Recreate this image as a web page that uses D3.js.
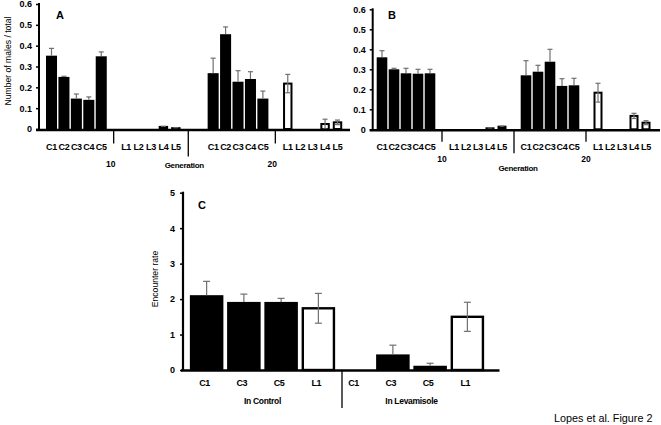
<!DOCTYPE html>
<html><head><meta charset="utf-8">
<script src="https://cdn.jsdelivr.net/npm/d3@7/dist/d3.min.js"></script>
<style>
html,body{margin:0;padding:0;background:#fff;}
svg{display:block;font-family:"Liberation Sans",Arial,sans-serif;}
</style></head>
<body><svg id="c" width="661" height="425"></svg>
<script>
// ---------- DATA ----------
const cCats = ["C1","C2","C3","C4","C5"];
const lCats = ["L1","L2","L3","L4","L5"];
const generations = ["10","20"];
const yTicksAB = [0,0.1,0.2,0.3,0.4,0.5,0.6];

// Panel A : number of males / total
const A_g10_C = [0.352,0.250,0.146,0.140,0.349];
const A_g10_C_err = [0.035,0.003,0.022,0.014,0.021];
const A_g10_L = [0,0,0,0.010,0.004];
const A_g10_L_err = [0,0,0,0.003,0.002];
const A_g20_C = [0.268,0.455,0.227,0.240,0.146];
const A_g20_C_err = [0.072,0.035,0.053,0.035,0.036];
const A_g20_L = [0.218,0,0,0.024,0.032];
const A_g20_L_err = [0.044,0,0,0.023,0.011];

// Panel B
const B_g10_C = [0.360,0.300,0.280,0.278,0.280];
const B_g10_C_err = [0.033,0.005,0.025,0.022,0.020];
const B_g10_L = [0,0,0,0.005,0.013];
const B_g10_L_err = [0,0,0,0.002,0.003];
const B_g20_C = [0.270,0.288,0.338,0.217,0.220];
const B_g20_C_err = [0.073,0.032,0.062,0.036,0.035];
const B_g20_L = [0.183,0,0,0.067,0.033];
const B_g20_L_err = [0.047,0,0,0.013,0.010];

// Panel C : encounter rate
const C_cats = ["C1","C3","C5","L1"];
const C_groups = ["In Control","In Levamisole"];
const C_control = [2.11,1.92,1.92,1.74];
const C_control_err = [0.39,0.22,0.10,0.42];
const C_lev = [0,0.44,0.12,1.50];
const C_lev_err = [0,0.26,0.07,0.41];
const yTicksC = [0,1,2,3,4,5];

// ---------- DRAW ----------
const svg = d3.select("#c");
const ERR = "#707070";
const fmt = d3.format(".1f");

function drawAB(o){
  const g = svg.append("g");
  const y = d3.scaleLinear().domain([0,0.6]).range([o.y0,o.y1]);
  const keys = [];
  cCats.forEach(c=>keys.push("10"+c)); keys.push("sep1");
  lCats.forEach(c=>keys.push("10"+c)); keys.push("sep2");
  if(o.gap) keys.push("gap");
  cCats.forEach(c=>keys.push("20"+c)); keys.push("sep3");
  lCats.forEach(c=>keys.push("20"+c));
  const x = d3.scalePoint().domain(keys).range(o.xr);
  const step = x.step();
  const bw = step - 1.4;
  const wbw = step - 3;

  const rows = [];
  const add=(gen,cats,vals,errs,type)=>cats.forEach((c,i)=>rows.push({key:gen+c,v:vals[i],e:errs[i],type}));
  add("10",cCats,o.d[0],o.d[1],"C");
  add("10",lCats,o.d[2],o.d[3],"L");
  add("20",cCats,o.d[4],o.d[5],"C");
  add("20",lCats,o.d[6],o.d[7],"L");

  g.selectAll(".bb").data(rows.filter(r=>r.type==="C"&&r.v>0)).join("rect")
    .attr("x",r=>x(r.key)-bw/2).attr("width",bw)
    .attr("y",r=>y(r.v)).attr("height",r=>y(0)-y(r.v)).attr("fill","#000");
  g.selectAll(".lb").data(rows.filter(r=>r.type==="L"&&r.v>0)).join("rect")
    .attr("x",r=>x(r.key)-wbw/2+1).attr("width",wbw-2)
    .attr("y",r=>y(r.v)).attr("height",r=>Math.max(0.5,y(0)-y(r.v)))
    .attr("fill",r=>r.v<0.02?"#000":"#fff").attr("stroke","#000").attr("stroke-width",2);
  const er = rows.filter(r=>r.e>0);
  g.selectAll(".ev").data(er).join("line")
    .attr("x1",r=>x(r.key)).attr("x2",r=>x(r.key))
    .attr("y1",r=>r.type==="L"&&r.v>0.02?y(r.v-r.e):y(r.v)).attr("y2",r=>y(r.v+r.e))
    .attr("stroke",ERR).attr("stroke-width",1.2);
  g.selectAll(".ec").data(er).join("line")
    .attr("x1",r=>x(r.key)-2.5).attr("x2",r=>x(r.key)+2.5)
    .attr("y1",r=>y(r.v+r.e)).attr("y2",r=>y(r.v+r.e))
    .attr("stroke",ERR).attr("stroke-width",1.2);
  g.selectAll(".ecl").data(er.filter(r=>r.type==="L"&&r.v>0.02)).join("line")
    .attr("x1",r=>x(r.key)-2.5).attr("x2",r=>x(r.key)+2.5)
    .attr("y1",r=>y(r.v-r.e)).attr("y2",r=>y(r.v-r.e))
    .attr("stroke",ERR).attr("stroke-width",1.2);

  const ya = g.append("g").attr("transform",`translate(${o.ax},0)`)
    .call(d3.axisLeft(y).tickValues(yTicksAB).tickFormat(d=>d===0?"0":fmt(d)).tickSize(3).tickPadding(4));
  ya.select(".domain").attr("stroke-width",2).attr("d",`M0,${o.y1-1}V${o.y0}`);
  ya.selectAll(".tick line").attr("stroke-width",1.5);
  ya.selectAll("text").attr("font-size",9).attr("font-weight","bold").attr("fill","#000");
  g.append("line").attr("x1",o.ax-3).attr("x2",o.axEnd).attr("y1",y(0)+1).attr("y2",y(0)+1)
    .attr("stroke","#000").attr("stroke-width",2.5);

  [["sep1",o.sepS],["sep2",o.sepL],["sep3",o.sepS]].forEach(([k,len])=>{
    g.append("line").attr("x1",x(k)).attr("x2",x(k)).attr("y1",y(0)+1).attr("y2",y(0)+1+len)
      .attr("stroke","#000").attr("stroke-width",1.3);
  });
  g.selectAll(".cl").data(rows).join("text")
    .attr("x",r=>x(r.key)).attr("y",o.catY).attr("text-anchor","middle")
    .attr("dominant-baseline","central").attr("font-size",9).attr("font-weight","bold")
    .attr("letter-spacing",-0.3).text(r=>r.key.slice(2));
  g.append("text").attr("x",x("sep1")+o.genDx).attr("y",o.genY).attr("text-anchor","middle")
    .attr("dominant-baseline","central").attr("font-size",8.5).attr("font-weight","bold").text(generations[0]);
  g.append("text").attr("x",x("sep3")+o.genDx).attr("y",o.genY).attr("text-anchor","middle")
    .attr("dominant-baseline","central").attr("font-size",8.5).attr("font-weight","bold").text(generations[1]);
  g.append("text").attr("x",x("sep2")+o.gDx).attr("y",o.gY).attr("text-anchor","middle")
    .attr("dominant-baseline","central").attr("font-size",8).attr("font-weight","bold")
    .attr("letter-spacing",-0.3).text("Generation");
  g.append("text").attr("x",o.letX).attr("y",o.letY).attr("text-anchor","middle")
    .attr("dominant-baseline","central").attr("font-size",11).attr("font-weight","bold").text(o.letter);
}

drawAB({letter:"A",letX:60,letY:15,y0:129,y1:4,ax:39,axEnd:350,xr:[51.5,337.5],gap:true,
  d:[A_g10_C,A_g10_C_err,A_g10_L,A_g10_L_err,A_g20_C,A_g20_C_err,A_g20_L,A_g20_L_err],
  sepS:13.5,sepL:26.5,catY:147,genY:164,genDx:-3,gY:165.5,gDx:-4});
drawAB({letter:"B",letX:392,letY:15,y0:129.3,y1:9.3,ax:372.7,axEnd:660,xr:[382,646],gap:false,
  d:[B_g10_C,B_g10_C_err,B_g10_L,B_g10_L_err,B_g20_C,B_g20_C_err,B_g20_L,B_g20_L_err],
  sepS:11.5,sepL:23,catY:147,genY:158.5,genDx:0,gY:168.3,gDx:4});

svg.append("text").attr("transform","translate(8,61) rotate(-90)").attr("text-anchor","middle")
  .attr("dominant-baseline","central").attr("font-size",8.6).text("Number of males / total");

(function(){
  const g = svg.append("g");
  const y = d3.scaleLinear().domain([0,5]).range([370,192.7]);
  const keys = [];
  C_cats.forEach(c=>keys.push("ctl"+c)); C_cats.forEach(c=>keys.push("lev"+c));
  const x = d3.scaleBand().domain(keys).range([188,486]).paddingInner(0.1).paddingOuter(0.05);
  const rows = [];
  C_cats.forEach((c,i)=>rows.push({key:"ctl"+c,lab:c,v:C_control[i],e:C_control_err[i]}));
  C_cats.forEach((c,i)=>rows.push({key:"lev"+c,lab:c,v:C_lev[i],e:C_lev_err[i]}));
  const isL = r=>r.lab.startsWith("L");
  const bw = x.bandwidth();
  g.selectAll(".b").data(rows.filter(r=>r.v>0)).join("rect")
    .attr("x",r=>isL(r)?x(r.key)+1.2:x(r.key)).attr("width",r=>isL(r)?bw-2.4:bw)
    .attr("y",r=>y(r.v)).attr("height",r=>y(0)-y(r.v))
    .attr("fill",r=>isL(r)?"#fff":"#000").attr("stroke",r=>isL(r)?"#000":"none").attr("stroke-width",2.4);
  const er = rows.filter(r=>r.e>0);
  const cx = r=>x(r.key)+bw/2;
  g.selectAll(".ev").data(er).join("line")
    .attr("x1",cx).attr("x2",cx).attr("y1",r=>isL(r)?y(r.v-r.e):y(r.v)).attr("y2",r=>y(r.v+r.e))
    .attr("stroke",ERR).attr("stroke-width",1.2);
  g.selectAll(".ec").data(er).join("line")
    .attr("x1",r=>cx(r)-3.5).attr("x2",r=>cx(r)+3.5).attr("y1",r=>y(r.v+r.e)).attr("y2",r=>y(r.v+r.e))
    .attr("stroke",ERR).attr("stroke-width",1.2);
  g.selectAll(".ecl").data(er.filter(isL)).join("line")
    .attr("x1",r=>cx(r)-3.5).attr("x2",r=>cx(r)+3.5).attr("y1",r=>y(r.v-r.e)).attr("y2",r=>y(r.v-r.e))
    .attr("stroke",ERR).attr("stroke-width",1.2);

  const ya = g.append("g").attr("transform","translate(183,0)")
    .call(d3.axisLeft(y).tickValues(yTicksC).tickFormat(d3.format("d")).tickSize(3).tickPadding(5));
  ya.select(".domain").attr("stroke-width",2.2).attr("d",`M0,${y(5)-1}V${y(0)}`);
  ya.selectAll(".tick line").attr("stroke-width",1.5);
  ya.selectAll("text").attr("font-size",9).attr("font-weight","bold").attr("fill","#000");
  g.append("line").attr("x1",181).attr("x2",499.5).attr("y1",y(0)+0.5).attr("y2",y(0)+0.5)
    .attr("stroke","#000").attr("stroke-width",2.5);
  const sepX = (cx(rows[3])+cx(rows[4]))/2 + 5;
  g.append("line").attr("x1",sepX).attr("x2",sepX).attr("y1",y(0)).attr("y2",408)
    .attr("stroke","#000").attr("stroke-width",1.3);
  g.selectAll(".cl").data(rows).join("text")
    .attr("x",r=>cx(r)-2).attr("y",382.7).attr("text-anchor","middle").attr("dominant-baseline","central")
    .attr("font-size",9).attr("font-weight","bold").attr("letter-spacing",-0.3).text(r=>r.lab);
  [0,1].forEach(gi=>{
    const xm = (cx(rows[gi*4])+cx(rows[gi*4+3]))/2;
    g.append("text").attr("x",xm).attr("y",400.7).attr("text-anchor","middle").attr("dominant-baseline","central")
      .attr("font-size",8.5).attr("font-weight","bold").attr("letter-spacing",-0.3).text(C_groups[gi]);
  });
  g.append("text").attr("x",202).attr("y",205).attr("text-anchor","middle").attr("dominant-baseline","central")
    .attr("font-size",11).attr("font-weight","bold").text("C");
  g.append("text").attr("transform","translate(155,279) rotate(-90)").attr("text-anchor","middle")
    .attr("dominant-baseline","central").attr("font-size",8.6).text("Encounter rate");
})();

svg.append("text").attr("x",554).attr("y",418).attr("dominant-baseline","central")
  .attr("font-size",10.8).text("Lopes et al. Figure 2");
</script></body></html>
